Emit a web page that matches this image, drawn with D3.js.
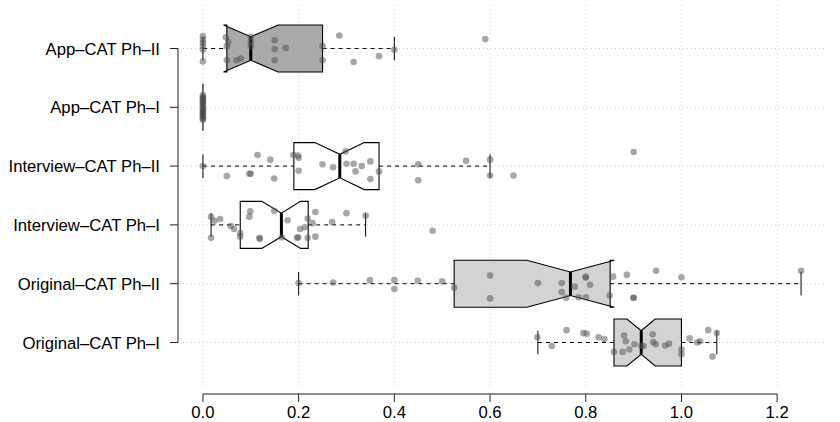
<!DOCTYPE html>
<html>
<head>
<meta charset="utf-8">
<script src="https://cdn.jsdelivr.net/npm/d3@7/dist/d3.min.js"></script>
<style>
  html, body { margin: 0; padding: 0; background: #fff; }
  svg { display: block; }
  text { font-family: "Liberation Sans", Arial, Helvetica, sans-serif; }
</style>
</head>
<body>
<svg id="chart" width="840" height="422"></svg>
<script>
// ---------- data (top to bottom) ----------
const categories = ["App\u2013CAT Ph\u2013II", "App\u2013CAT Ph\u2013I", "Interview\u2013CAT Ph\u2013II",
                    "Interview\u2013CAT Ph\u2013I", "Original\u2013CAT Ph\u2013II", "Original\u2013CAT Ph\u2013I"];
const boxFills = ["#a9a9a9", "#a9a9a9", "#ffffff", "#ffffff", "#d3d3d3", "#d3d3d3"];

// box statistics
const whiskerLow  = [0.00, 0, 0.000, 0.017, 0.200, 0.700];
const q1          = [0.05, 0, 0.190, 0.078, 0.525, 0.859];
const median      = [0.10, 0, 0.286, 0.164, 0.768, 0.916];
const q3          = [0.25, 0, 0.368, 0.220, 0.851, 1.000];
const whiskerHigh = [0.40, 0, 0.600, 0.340, 1.250, 1.074];
const notchLow    = [0.043, 0, 0.234, 0.123, 0.677, 0.886];
const notchHigh   = [0.157, 0, 0.337, 0.204, 0.860, 0.945];

// jittered observations: value and vertical jitter (category units)
const appPh2Values = [0,0,0,0,0,0,0.048,0.053,0.05,0.05,0.07,0.079,0.1,0.1,0.1,0.15,0.15,0.15,0.173,0.25,0.25,0.285,0.315,0.368,0.4,0.59];
const appPh2Jitter = [0.21,0.15,0.10,0.04,-0.02,-0.22,0.19,0.11,0.04,-0.20,-0.20,-0.17,0.20,0.12,0.04,0.14,-0.01,-0.20,0.01,0.04,-0.20,0.22,-0.23,-0.13,-0.02,0.16];

const appPh1Values = [0,0,0,0,0,0,0,0,0,0,0,0,0,0,0,0,0];
const appPh1Jitter = [0.21,0.18,0.15,0.13,0.10,0.08,0.05,0.02,-0.01,-0.04,-0.06,-0.09,-0.11,-0.14,-0.17,-0.19,-0.21];

const intPh2Values = [0,0.05,0.097,0.1,0.114,0.141,0.149,0.189,0.199,0.2,0.2,0.25,0.272,0.298,0.3,0.315,0.319,0.332,0.35,0.35,0.368,0.45,0.45,0.55,0.6,0.6,0.649,0.9];
const intPh2Jitter = [0.0,-0.17,-0.13,-0.13,0.19,0.11,-0.21,0.19,0.18,0.14,-0.08,0.03,-0.02,0.25,0.04,0.04,-0.09,0.0,0.08,-0.22,-0.09,0.03,-0.24,0.09,0.11,-0.16,-0.16,0.24];

const intPh1Values = [0.017,0.017,0.024,0.036,0.058,0.065,0.078,0.078,0.097,0.099,0.118,0.119,0.149,0.165,0.177,0.197,0.199,0.203,0.213,0.219,0.219,0.229,0.235,0.235,0.27,0.3,0.34,0.48];
const intPh1Jitter = [0.14,-0.22,0.07,0.10,-0.02,-0.07,-0.14,-0.20,0.14,0.23,-0.22,-0.24,0.24,-0.21,0.08,-0.22,-0.21,-0.07,-0.04,-0.22,0.11,0.03,0.22,-0.20,0.05,0.20,0.16,-0.10];

const origPh2Values = [0.2,0.272,0.349,0.4,0.4,0.449,0.5,0.525,0.6,0.6,0.7,0.75,0.75,0.759,0.777,0.785,0.8,0.8,0.8,0.809,0.85,0.857,0.886,0.9,0.9,0.947,1.0,1.25];
const origPh2Jitter = [0.01,0.02,0.06,0.06,-0.09,0.05,0.04,-0.07,0.14,-0.25,0.01,0.01,-0.14,-0.24,-0.05,-0.23,0.12,0.10,-0.23,-0.02,-0.20,0.12,0.15,-0.24,-0.24,0.22,0.11,0.22];

const origPh1Values = [0.699,0.729,0.76,0.795,0.802,0.827,0.839,0.859,0.877,0.88,0.884,0.891,0.902,0.916,0.921,0.94,0.941,0.946,0.966,0.974,1.0,1.0,1.017,1.033,1.039,1.056,1.065,1.074];
const origPh1Jitter = [0.09,-0.06,0.21,0.16,0.15,0.09,0.06,-0.16,-0.16,0.12,0.02,-0.12,-0.03,-0.06,-0.06,0.14,0.01,-0.03,-0.05,-0.02,-0.12,-0.20,0.07,0.0,0.02,0.21,-0.24,0.16];

const xTicks = [0, 0.2, 0.4, 0.6, 0.8, 1.0, 1.2];
const xTickLabels = ["0.0", "0.2", "0.4", "0.6", "0.8", "1.0", "1.2"];

const seriesValues = [appPh2Values, appPh1Values, intPh2Values, intPh1Values, origPh2Values, origPh1Values];
const seriesJitter = [appPh2Jitter, appPh1Jitter, intPh2Jitter, intPh1Jitter, origPh2Jitter, origPh1Jitter];

// ---------- layout ----------
const svg = d3.select("#chart");
const x = d3.scaleLinear().domain([-0.05, 1.30]).range([179, 825]);
const y = d3.scaleLinear().domain([0.26, 6.74]).range([386, 5]);
const n = categories.length;
const pos = i => n - i;               // top category gets position 6
const halfW = 0.4;                    // boxwex 0.8
const notchFrac = 0.5;
const stapleW = 0.5 * halfW;
const fontSize = 16.7;

// grid
const grid = svg.append("g").attr("stroke", "#d3d3d3").attr("stroke-width", 1).attr("stroke-dasharray", "1,3");
grid.selectAll("line.v").data(xTicks).join("line").attr("class", "v")
  .attr("x1", d => x(d)).attr("x2", d => x(d)).attr("y1", y(6.74)).attr("y2", y(0.26));
grid.selectAll("line.h").data(categories).join("line").attr("class", "h")
  .attr("x1", x(-0.05)).attr("x2", x(1.30)).attr("y1", (d, i) => y(pos(i))).attr("y2", (d, i) => y(pos(i)));

// boxes
const boxes = svg.append("g");
categories.forEach((c, i) => {
  const p = pos(i);
  const g = boxes.append("g");
  // whiskers (dashed)
  g.append("line").attr("x1", x(whiskerLow[i])).attr("x2", x(q1[i]))
    .attr("y1", y(p)).attr("y2", y(p)).attr("stroke", "#000").attr("stroke-dasharray", "4,4");
  g.append("line").attr("x1", x(q3[i])).attr("x2", x(whiskerHigh[i]))
    .attr("y1", y(p)).attr("y2", y(p)).attr("stroke", "#000").attr("stroke-dasharray", "4,4");
  // staples
  [whiskerLow[i], whiskerHigh[i]].forEach(v => {
    g.append("line").attr("x1", x(v)).attr("x2", x(v))
      .attr("y1", y(p + stapleW)).attr("y2", y(p - stapleW)).attr("stroke", "#000");
  });
  // notched box polygon (R bxp order)
  const pts = [
    [q1[i], p - halfW], [q1[i], p + halfW], [notchLow[i], p + halfW], [median[i], p + halfW * notchFrac],
    [notchHigh[i], p + halfW], [q3[i], p + halfW], [q3[i], p - halfW], [notchHigh[i], p - halfW],
    [median[i], p - halfW * notchFrac], [notchLow[i], p - halfW]
  ];
  g.append("polygon").attr("points", pts.map(d => x(d[0]) + "," + y(d[1])).join(" "))
    .attr("fill", boxFills[i]).attr("stroke", "#000").attr("stroke-width", 1.1).attr("stroke-linejoin", "miter");
  // median
  g.append("line").attr("x1", x(median[i])).attr("x2", x(median[i]))
    .attr("y1", y(p + halfW * notchFrac)).attr("y2", y(p - halfW * notchFrac))
    .attr("stroke", "#000").attr("stroke-width", 3);
});

// points
const pts = svg.append("g");
seriesValues.forEach((vals, i) => {
  const p = pos(i);
  pts.selectAll(null).data(vals).join("circle")
    .attr("cx", d => x(d)).attr("cy", (d, k) => y(p + seriesJitter[i][k]))
    .attr("r", 3.3).attr("fill", "rgba(80,80,80,0.5)");
});

// x axis
const xa = svg.append("g");
xa.append("line").attr("x1", x(0)).attr("x2", x(1.2)).attr("y1", 394).attr("y2", 394).attr("stroke", "#222");
xa.selectAll("line.t").data(xTicks).join("line").attr("class", "t")
  .attr("x1", d => x(d)).attr("x2", d => x(d)).attr("y1", 394).attr("y2", 402).attr("stroke", "#222");
xa.selectAll("text").data(xTicks).join("text")
  .attr("x", d => x(d)).attr("y", 418).attr("text-anchor", "middle")
  .attr("font-size", fontSize).attr("fill", "#000").text((d, k) => xTickLabels[k]);

// y axis
const ya = svg.append("g");
ya.append("line").attr("x1", 178).attr("x2", 178).attr("y1", y(6)).attr("y2", y(1)).attr("stroke", "#222");
ya.selectAll("line.t").data(categories).join("line").attr("class", "t")
  .attr("x1", 170).attr("x2", 178).attr("y1", (d, i) => y(pos(i))).attr("y2", (d, i) => y(pos(i))).attr("stroke", "#222");
ya.selectAll("text").data(categories).join("text")
  .attr("x", 160).attr("y", (d, i) => y(pos(i))).attr("dy", "0.36em").attr("text-anchor", "end")
  .attr("font-size", fontSize).attr("fill", "#000").text(d => d);
</script>
</body>
</html>
